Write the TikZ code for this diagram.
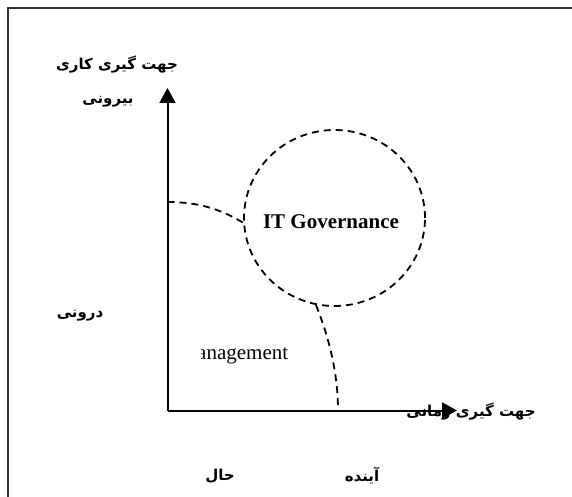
\documentclass[tikz,border=0pt]{standalone}
\usepackage{fontspec}
\setmainfont{Liberation Serif}
\newfontfamily\fa[Script=Arabic]{DejaVu Sans}
\TeXXeTstate=1
\usetikzlibrary{arrows.meta,shapes.geometric}
\begin{document}
\begin{tikzpicture}[x=1pt,y=-1pt,
  frameline/.style={draw=black!80,line width=2.5pt},
  axisline/.style={draw=black,line width=2pt,-{Triangle[length=15pt,width=16pt]}},
  dashline/.style={draw=black,line width=1.8pt,dash pattern=on 7pt off 5pt},
  falabel/.style={font=\fa\bfseries\fontsize{15}{17}\selectfont,inner sep=0pt},
  enlabel/.style={font=\fontsize{21}{24}\selectfont,inner sep=0pt}]
\useasboundingbox (0,0) rectangle (572,497);
\fill[white] (0,0) rectangle (572,497);
% frame
\coordinate (ftl) at (8,8);
\coordinate (ftr) at (572,8);
\coordinate (fbl) at (8,497);
\draw[frameline] (ftr) -- (ftl) -- (fbl);
% axes
\coordinate (o) at (167.5,410.5);
\coordinate (ytop) at (167.5,88);
\coordinate (xend) at (457,410.5);
\draw[axisline] (o) -- (ytop);
% circle
\node[ellipse,dashline,minimum width=181pt,minimum height=176pt,inner sep=0pt] (circ) at (334.5,218) {};
\node[enlabel,font=\bfseries\fontsize{21}{24}\selectfont] (itg) at (331,222) {IT Governance};
% dashed curves
\coordinate (lstart) at (167.5,202);
\draw[dashline] (lstart) .. controls (200,202) and (222,210) .. (circ.183);
\coordinate (bend) at (338,410.5);
\draw[dashline] (circ.258) .. controls (330,340) and (338,375) .. (bend);
% labels
\node[falabel] (ylab) at (117,65) {\beginR جهت گیری کاری\endR};
\node[falabel] (ext) at (108,102) {\beginR بیرونی\endR};
\node[falabel] (int) at (80,316) {\beginR درونی\endR};
\node[falabel] (xlab) at (471,412) {\beginR جهت گیری زمانی\endR};
\node[falabel] (now) at (220,476) {\beginR حال\endR};
\node[falabel] (fut) at (362,476) {\beginR آینده\endR};
\begin{scope}
\clip (201,330) rectangle (300,380);
\node[enlabel,anchor=base west] (mgmt) at (197,359) {anagement};
\end{scope}
\draw[axisline] (o) -- (xend);
\end{tikzpicture}
\end{document}
